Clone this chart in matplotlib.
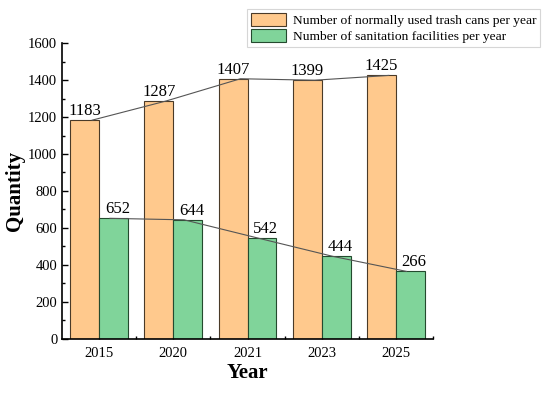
import numpy as np
import matplotlib
matplotlib.use("Agg")
import matplotlib.pyplot as plt
from matplotlib.ticker import MultipleLocator

# data
years = ["2015", "2020", "2021", "2023", "2025"]
trash_cans = [1183, 1287, 1407, 1399, 1425]
trash_labels = ["1183", "1287", "1407", "1399", "1425"]
sanitation = [652, 644, 545, 447, 365]
sanitation_labels = ["652", "644", "542", "444", "266"]

series_names = ["Number of normally used trash cans per year",
                "Number of sanitation facilities per year"]

plt.rcParams['font.family'] = ['Liberation Serif', 'DejaVu Serif']

fig = plt.figure(figsize=(5.5, 3.95), dpi=100)
ax = fig.add_axes([0.113, 0.142, 0.674, 0.749])

ind = np.arange(len(years))
width = 0.39
orange = "#FFC98D"
green = "#80D49A"

b1 = ax.bar(ind - width / 2, trash_cans, width, color=orange,
            edgecolor="#4a3a28", linewidth=0.8, label=series_names[0], zorder=2)
b2 = ax.bar(ind + width / 2, sanitation, width, color=green,
            edgecolor="#244a2e", linewidth=0.8, label=series_names[1], zorder=2)

# trend lines over the bar tops
ax.plot(ind - width / 2 + 0.1, trash_cans, color="#555555", lw=0.8, zorder=3)
ax.plot(ind + width / 2 - 0.05, sanitation, color="#555555", lw=0.8, zorder=3)

for x, y, t in zip(ind - width / 2, trash_cans, trash_labels):
    ax.text(x, y + 6, t, ha="center", va="bottom", fontsize=12, zorder=4)
for x, y, t in zip(ind + width / 2, sanitation, sanitation_labels):
    ax.text(x + 0.05, y + 6, t, ha="center", va="bottom", fontsize=12, zorder=4)

ax.set_xlim(-0.5, len(years) - 0.5)
ax.set_ylim(0, 1600)
ax.set_xticks(ind)
ax.set_xticklabels(years)
ax.set_xticks(ind + 0.5, minor=True)
ax.yaxis.set_major_locator(MultipleLocator(200))
ax.yaxis.set_minor_locator(MultipleLocator(100))
ax.tick_params(axis="both", which="major", direction="in", length=4,
               width=1, labelsize=10.5)
ax.tick_params(axis="both", which="minor", direction="in", length=2, width=1)
ax.tick_params(axis="x", which="major", pad=6)

for side in ["top", "right"]:
    ax.spines[side].set_visible(False)
for side in ["left", "bottom"]:
    ax.spines[side].set_linewidth(1.2)

ax.set_xlabel("Year", fontsize=15, fontweight="bold", labelpad=2)
ax.set_ylabel("Quantity", fontsize=15, fontweight="bold", labelpad=2)

leg = fig.legend(handles=[b1, b2], loc="upper left",
                 bbox_to_anchor=(0.449, 0.978), fontsize=9.7,
                 frameon=True, fancybox=False, edgecolor="#cccccc",
                 handlelength=2.6, handleheight=1.15, handletextpad=0.5,
                 borderpad=0.3, labelspacing=0.15, borderaxespad=0)
leg.get_frame().set_linewidth(0.8)

fig.savefig("out.png", dpi=100)
